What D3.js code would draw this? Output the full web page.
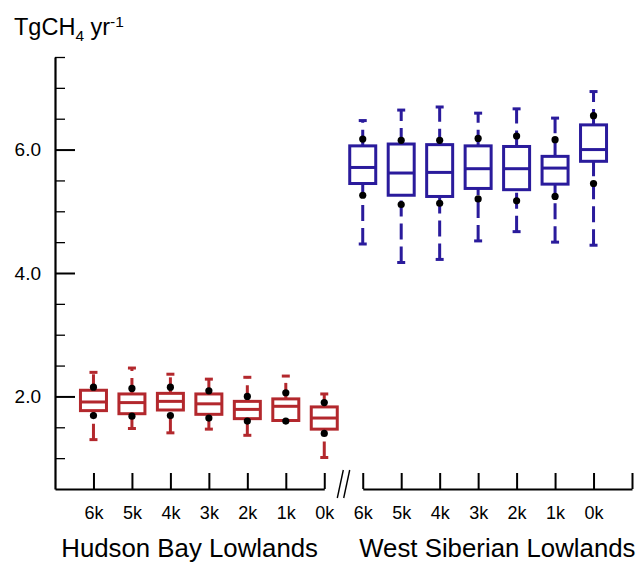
<!DOCTYPE html>
<html>
<head>
<meta charset="utf-8">
<script src="https://cdn.jsdelivr.net/npm/d3@7"></script>
<style>
  body { margin: 0; background: #fff; }
  svg { display: block; font-family: "Liberation Sans", Arial, Helvetica, sans-serif; }
</style>
</head>
<body>
<div id="chart"></div>
<script>
// categories
const ages = ["6k", "5k", "4k", "3k", "2k", "1k", "0k"];
const regions = ["Hudson Bay Lowlands", "West Siberian Lowlands"];
const regionColors = ["#b3282d", "#2a1b9c"];

// Hudson Bay Lowlands (TgCH4 / yr)
const hblMax = [2.39, 2.46, 2.36, 2.28, 2.31, 2.33, 2.04];
const hblP90 = [2.15, 2.13, 2.15, 2.09, 2.00, 2.06, 1.90];
const hblQ3  = [2.10, 2.04, 2.05, 2.04, 1.92, 1.96, 1.83];
const hblMed = [1.91, 1.90, 1.92, 1.88, 1.79, 1.84, 1.65];
const hblQ1  = [1.77, 1.72, 1.78, 1.71, 1.64, 1.61, 1.47];
const hblP10 = [1.69, 1.68, 1.69, 1.65, 1.60, 1.60, 1.40];
const hblMin = [1.30, 1.48, 1.41, 1.47, 1.37, 1.61, 1.01];

// West Siberian Lowlands
const wslMax = [6.47, 6.64, 6.69, 6.59, 6.66, 6.51, 6.94];
const wslP90 = [6.17, 6.15, 6.15, 6.18, 6.22, 6.16, 6.55];
const wslQ3  = [6.06, 6.09, 6.08, 6.06, 6.05, 5.89, 6.40];
const wslMed = [5.71, 5.62, 5.63, 5.69, 5.69, 5.70, 6.00];
const wslQ1  = [5.45, 5.26, 5.24, 5.37, 5.35, 5.44, 5.81];
const wslP10 = [5.26, 5.11, 5.13, 5.20, 5.17, 5.24, 5.45];
const wslMin = [4.47, 4.17, 4.22, 4.52, 4.67, 4.50, 4.45];

// y axis ticks
const yMajor = [2, 4, 6];
const yMinor = [1.0, 1.5, 2.5, 3.0, 3.5, 4.5, 5.0, 5.5, 6.5, 7.0, 7.5];

const width = 640, height = 563;

const svg = d3.select("#chart").append("svg")
    .attr("width", width)
    .attr("height", height);

// slot -1 = y axis, slots 0..6 = HBL, 7..13 = WSL, 14 = end of axis
const x = d3.scaleLinear().domain([-1, 14]).range([55, 632]);
const y = d3.scaleLinear().domain([0.5, 7.5]).range([489, 57]);
const axisY = y(0.5);

// build rows for the boxes
const series = [
  { max: hblMax, p90: hblP90, q3: hblQ3, med: hblMed, q1: hblQ1, p10: hblP10, min: hblMin },
  { max: wslMax, p90: wslP90, q3: wslQ3, med: wslMed, q1: wslQ1, p10: wslP10, min: wslMin }
];
const rows = [];
series.forEach(function(s, g) {
  ages.forEach(function(a, i) {
    rows.push({ g: g, slot: g * 7 + i, max: s.max[i], p90: s.p90[i], q3: s.q3[i],
                med: s.med[i], q1: s.q1[i], p10: s.p10[i], min: s.min[i] });
  });
});

// y axis: minor + major ticks pointing inward, labels on the left
svg.append("g")
    .attr("transform", "translate(" + x(-1) + ",0)")
    .call(d3.axisRight(y).tickValues(yMinor).tickSize(10).tickSizeOuter(0).tickFormat(""))
    .call(g => g.select(".domain").attr("stroke-width", 2.2))
    .call(g => g.selectAll(".tick line").attr("stroke-width", 1.3));

svg.append("g")
    .attr("transform", "translate(" + x(-1) + ",0)")
    .call(d3.axisRight(y).tickValues(yMajor).tickSize(20).tickSizeOuter(0).tickFormat(""))
    .call(g => g.select(".domain").remove())
    .call(g => g.selectAll(".tick line").attr("stroke-width", 2));

svg.append("g")
    .attr("transform", "translate(" + x(-1) + ",0)")
    .call(d3.axisLeft(y).tickValues(yMajor).tickSize(0).tickPadding(14).tickFormat(d3.format(".1f")))
    .call(g => g.select(".domain").remove())
    .call(g => g.selectAll("text").attr("font-size", 19).attr("fill", "#000").attr("font-family", null));

// x axis in two segments with a break
[0, 1].forEach(function(g) {
  const lo = g === 0 ? -1 : 7;
  const hi = g === 0 ? 6 : 14;
  const seg = x.copy().domain([lo, hi]).range([x(lo), x(hi)]);
  const vals = g === 0 ? d3.range(0, 7) : d3.range(7, 15);
  svg.append("g")
      .attr("transform", "translate(0," + axisY + ")")
      .call(d3.axisBottom(seg).tickValues(vals).tickSizeInner(-16).tickSizeOuter(0).tickPadding(17)
          .tickFormat(d => ages[d - g * 7] || ""))
      .call(gg => gg.select(".domain").attr("stroke-width", 2.2))
      .call(gg => gg.selectAll(".tick line").attr("stroke-width", 2))
      .call(gg => gg.selectAll("text").attr("font-size", 18).attr("fill", "#000").attr("font-family", null));

  svg.append("text")
      .attr("x", (x(lo) + x(hi)) / 2)
      .attr("y", 557)
      .attr("text-anchor", "middle")
      .attr("font-size", 25.8)
      .text(regions[g]);
});

// break marks
const bx = x(6.5);
[-3.2, 3.2].forEach(function(o) {
  svg.append("line")
      .attr("x1", bx + o - 3).attr("y1", axisY + 9)
      .attr("x2", bx + o + 3).attr("y2", axisY - 19)
      .attr("stroke", "#000")
      .attr("stroke-width", 1.4);
});

// boxes
const hw = 13, capW = 4;
const box = svg.append("g").selectAll("g.box")
    .data(rows)
    .enter().append("g")
    .attr("class", "box")
    .attr("stroke", d => regionColors[d.g])
    .attr("stroke-width", 3)
    .attr("fill", "none");

// whiskers drawn from lower value upward so the dash phase starts at the bottom
box.append("line")
    .attr("x1", d => x(d.slot)).attr("x2", d => x(d.slot))
    .attr("y1", d => y(d.q3)).attr("y2", d => y(d.max))
    .attr("stroke-dasharray", "16,7");
box.append("line")
    .attr("x1", d => x(d.slot)).attr("x2", d => x(d.slot))
    .attr("y1", d => y(d.min)).attr("y2", d => y(d.q1))
    .attr("stroke-dasharray", "16,7");
box.append("line")
    .attr("x1", d => x(d.slot) - capW).attr("x2", d => x(d.slot) + capW)
    .attr("y1", d => y(d.max)).attr("y2", d => y(d.max));
box.append("line")
    .attr("x1", d => x(d.slot) - capW).attr("x2", d => x(d.slot) + capW)
    .attr("y1", d => y(d.min)).attr("y2", d => y(d.min));
box.append("rect")
    .attr("x", d => x(d.slot) - hw)
    .attr("width", hw * 2)
    .attr("y", d => y(d.q3))
    .attr("height", d => y(d.q1) - y(d.q3))
    .attr("fill", "#fff");
box.append("line")
    .attr("x1", d => x(d.slot) - hw).attr("x2", d => x(d.slot) + hw)
    .attr("y1", d => y(d.med)).attr("y2", d => y(d.med));

// 10th / 90th percentile dots
svg.append("g").selectAll("circle")
    .data(rows.flatMap(d => [{ slot: d.slot, v: d.p90 }, { slot: d.slot, v: d.p10 }]))
    .enter().append("circle")
    .attr("cx", d => x(d.slot))
    .attr("cy", d => y(d.v))
    .attr("r", 3.6)
    .attr("fill", "#000");

// unit label
const unit = svg.append("text")
    .attr("x", 14)
    .attr("y", 35)
    .attr("font-size", 23.5);
unit.append("tspan").text("TgCH");
unit.append("tspan").attr("font-size", 15.5).attr("dy", 6).text("4");
unit.append("tspan").attr("dy", -6).text(" yr");
unit.append("tspan").attr("font-size", 15.5).attr("dy", -8).text("-1");
</script>
</body>
</html>
